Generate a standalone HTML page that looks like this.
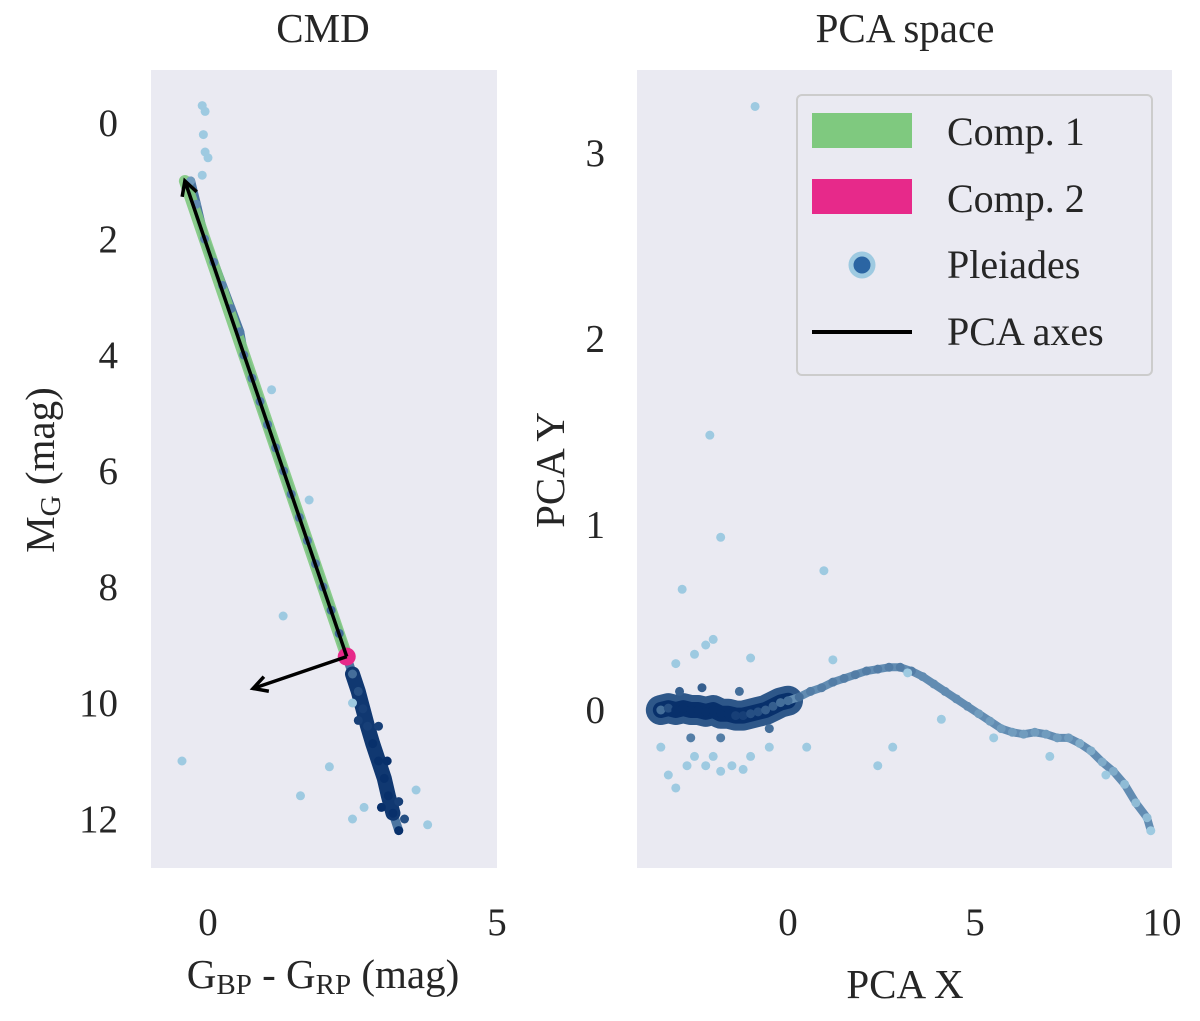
<!DOCTYPE html>
<html><head><meta charset="utf-8"><style>
body{margin:0;background:#fff}
svg text{font-family:"Liberation Serif",serif;fill:#262626}
</style></head><body>
<svg id="fig" width="1200" height="1016" viewBox="0 0 1200 1016" xmlns="http://www.w3.org/2000/svg">
<rect x="151" y="70" width="346" height="798" fill="#EAEAF2"/>
<rect x="637" y="70" width="535" height="798" fill="#EAEAF2"/>
<g id="cmd"></g><g id="pca"></g>
<text x="323" y="42" font-size="41" text-anchor="middle">CMD</text>
<text x="905" y="42" font-size="41" text-anchor="middle">PCA space</text>
<text x="323" y="988" font-size="41" text-anchor="middle">G<tspan font-size="29" dy="6">BP</tspan><tspan dy="-6"> - G</tspan><tspan font-size="29" dy="6">RP</tspan><tspan dy="-6"> (mag)</tspan></text>
<text transform="translate(54,470) rotate(-90)" font-size="41" text-anchor="middle">M<tspan font-size="29" dy="6">G</tspan><tspan dy="-6"> (mag)</tspan></text>
<text x="905" y="998" font-size="41" text-anchor="middle">PCA X</text>
<text transform="translate(564,470) rotate(-90)" font-size="41" text-anchor="middle">PCA Y</text>
<g>
<rect x="797" y="95" width="355" height="280" rx="5" fill="#EAEAF2" stroke="#cccccc" stroke-width="2"/>
<rect x="812" y="113" width="100" height="35" fill="#7FC97F"/>
<text x="947" y="145" font-size="40">Comp. 1</text>
<rect x="812" y="179" width="100" height="35" fill="#E7298A"/>
<text x="947" y="212" font-size="40">Comp. 2</text>
<circle cx="862" cy="265" r="11" fill="#2B65A3" stroke="#9ECAE1" stroke-width="5"/>
<text x="947" y="278" font-size="40">Pleiades</text>
<line x1="812" y1="332" x2="912" y2="332" stroke="#000" stroke-width="4"/>
<text x="947" y="345" font-size="40">PCA axes</text>
</g>
</svg>
<script>
const cmdColor=[-0.1,-0.05,-0.08,-0.05,0.0,-0.1,-0.3,-0.2,-0.06,0.1,0.25,0.4,0.55,0.62,0.76,0.9,1.03,1.17,1.31,1.44,1.58,1.72,1.86,1.99,2.13,2.27,2.4,2.5,2.6,2.68,2.76,2.85,2.95,3.05,3.12,3.2,3.3,2.6,3.1,2.95,3.3,3.0,3.4,-0.45,1.6,2.1,1.3,1.75,1.1,2.5,2.7,3.8,2.5,3.6];
const cmdMag=[-0.3,-0.2,0.2,0.5,0.6,0.9,1.0,1.4,2.0,2.4,2.8,3.2,3.6,4.0,4.4,4.8,5.2,5.6,6.0,6.4,6.8,7.2,7.6,8.0,8.4,8.8,9.2,9.5,9.8,10.1,10.4,10.7,11.0,11.3,11.6,11.9,12.2,10.3,11.0,10.4,11.7,11.8,12.0,11.0,11.6,11.1,8.5,6.5,4.6,12.0,11.8,12.1,10.0,11.5];
const cmdShade=[0,0,0,0,0,0,0.3,0.4,0.45,0.45,0.45,0.5,0.5,0.5,0.5,0.5,0.5,0.5,0.5,0.5,0.5,0.5,0.5,0.5,0.6,0.6,0.6,0.6,0.8,0.9,0.9,1,1,1,1,1,1,0.9,1,0.9,0.9,1,0.8,0,0,0,0,0,0,0,0,0,0,0];
const comp1=[[-0.4,1.0],[2.4,9.2]];
const axis2End=[0.78,9.75];
const pcaX=[-3.4,-3.2,-3.0,-2.8,-2.6,-2.4,-2.2,-2.0,-1.8,-1.6,-1.4,-1.2,-1.0,-0.8,-0.6,-0.4,-0.2,0,0.3,0.6,0.9,1.2,1.5,1.8,2.1,2.4,2.7,3.0,3.3,3.6,3.9,4.2,4.5,4.8,5.1,5.4,5.7,6.0,6.3,6.6,6.9,7.2,7.5,7.8,8.1,8.4,8.7,9.0,9.3,9.6,9.7,-3.4,-3.2,-3.0,-2.7,-2.5,-2.2,-2.0,-1.8,-1.5,-1.2,-1.0,-0.5,-3.0,-2.5,-2.2,-2.0,-1.0,0.5,1.2,2.4,2.8,3.2,4.1,5.5,7.0,8.5,-0.88,-2.09,-1.8,-2.83,0.96,-2.6,-1.8,-2.9,-2.3,-1.3,-0.5];
const pcaY=[0,0.01,0.0,0.01,0.0,0.0,-0.01,0.0,-0.02,-0.02,-0.03,-0.03,-0.02,-0.01,0.0,0.02,0.04,0.05,0.07,0.1,0.12,0.15,0.17,0.19,0.21,0.22,0.23,0.23,0.21,0.18,0.14,0.1,0.06,0.02,-0.02,-0.06,-0.1,-0.12,-0.13,-0.12,-0.13,-0.15,-0.15,-0.18,-0.22,-0.28,-0.33,-0.4,-0.5,-0.58,-0.65,-0.2,-0.35,-0.42,-0.3,-0.25,-0.3,-0.25,-0.33,-0.3,-0.32,-0.25,-0.2,0.25,0.3,0.35,0.38,0.28,-0.2,0.27,-0.3,-0.2,0.2,-0.05,-0.15,-0.25,-0.35,3.25,1.48,0.93,0.65,0.75,-0.15,-0.15,0.1,0.12,0.1,-0.1];
const pcaShade=[0.6,0.8,1,1,1,1,1,1,1,1,0.9,0.9,0.8,0.8,0.7,0.7,0.6,0.6,0.6,0.5,0.5,0.5,0.5,0.5,0.5,0.5,0.5,0.5,0.5,0.4,0.4,0.4,0.4,0.4,0.3,0.3,0.3,0.3,0.3,0.3,0.3,0.3,0.3,0.2,0.2,0.2,0.2,0.1,0.1,0.1,0,0,0,0,0,0,0,0,0,0,0,0,0,0,0,0,0,0,0,0,0,0,0,0,0,0,0,0,0,0,0,0,0.5,0.5,0.7,0.7,0.6,0.6];
const cmdXTicks=[0,5], cmdYTicks=[0,2,4,6,8,10,12], pcaXTicks=[0,5,10], pcaYTicks=[0,1,2,3];

const NS="http://www.w3.org/2000/svg";
function mk(p,t,a){const e=document.createElementNS(NS,t);for(const k in a)e.setAttribute(k,a[k]);p.appendChild(e);return e;}
const cx=v=>208+(v-0)*57.8, cy=v=>123+v*58;
const px=v=>788+v*37.4, py=v=>710-v*185.7;
function shade(s){const a=[158,202,225],b=[8,48,107];return `rgb(${a.map((c,i)=>Math.round(c+(b[i]-c)*s)).join(',')})`;}
const cmd=document.getElementById('cmd'), pca=document.getElementById('pca');

cmdXTicks.forEach(t=>{const e=mk(cmd,'text',{x:cx(t),y:935,'font-size':39,'text-anchor':'middle'});e.textContent=t;

});
cmdYTicks.forEach(t=>{const e=mk(cmd,'text',{x:118,y:cy(t)+13,'font-size':39,'text-anchor':'end'});e.textContent=t;

});
pcaXTicks.forEach(t=>{const e=mk(pca,'text',{x:px(t),y:935,'font-size':39,'text-anchor':'middle'});e.textContent=t;

});
pcaYTicks.forEach(t=>{const e=mk(pca,'text',{x:605,y:py(t)+13,'font-size':39,'text-anchor':'end'});e.textContent=t;

});

let seq=[];for(let i=6;i<37;i++)seq.push(cx(cmdColor[i])+','+cy(cmdMag[i]));
const band=mk(cmd,'polyline',{points:seq.join(' '),fill:'none',stroke:shade(0.55),'stroke-width':9,'stroke-linecap':'round'});


let seq2=[];for(let i=27;i<36;i++)seq2.push(cx(cmdColor[i])+','+cy(cmdMag[i]));
const band2=mk(cmd,'polyline',{points:seq2.join(' '),fill:'none',stroke:shade(0.95),'stroke-width':15,'stroke-linecap':'round'});


const g=mk(cmd,'line',{x1:cx(comp1[0][0]),y1:cy(comp1[0][1]),x2:cx(comp1[1][0]),y2:cy(comp1[1][1]),stroke:'#7FC97F','stroke-width':12,'stroke-linecap':'round','stroke-opacity':0.9});


cmdColor.forEach((c,i)=>{const e=mk(cmd,'circle',{cx:cx(c),cy:cy(cmdMag[i]),r:4.5,fill:shade(cmdShade[i])});

});
const dot=mk(cmd,'circle',{cx:cx(comp1[1][0]),cy:cy(comp1[1][1]),r:9,fill:'#E7298A'});


function arrow(x1,y1,x2,y2,name){const grp=mk(cmd,'g',{});


mk(grp,'line',{x1,y1,x2,y2,stroke:'#000','stroke-width':3.5});
const a=Math.atan2(y2-y1,x2-x1),L=16,w=0.5;
mk(grp,'polyline',{points:`${x2-L*Math.cos(a-w)},${y2-L*Math.sin(a-w)} ${x2},${y2} ${x2-L*Math.cos(a+w)},${y2-L*Math.sin(a+w)}`,fill:'none',stroke:'#000','stroke-width':3.5});}
arrow(cx(comp1[1][0]),cy(comp1[1][1]),cx(comp1[0][0]),cy(comp1[0][1]),'pca-axis-1-arrow');
arrow(cx(comp1[1][0]),cy(comp1[1][1]),cx(axis2End[0]),cy(axis2End[1]),'pca-axis-2-arrow');

let cl=[];for(let i=0;i<18;i++)cl.push(px(pcaX[i])+','+py(pcaY[i]));
const cb=mk(pca,'polyline',{points:cl.join(' '),fill:'none',stroke:shade(0.75),'stroke-width':30,'stroke-linecap':'round','stroke-linejoin':'round'});


const cb2=mk(pca,'polyline',{points:cl.join(' '),fill:'none',stroke:shade(1),'stroke-width':16,'stroke-linecap':'round','stroke-linejoin':'round'});


let cu=[];for(let i=17;i<51;i++)cu.push(px(pcaX[i])+','+py(pcaY[i]));
const cub=mk(pca,'polyline',{points:cu.join(' '),fill:'none',stroke:shade(0.4),'stroke-width':8,'stroke-linecap':'round','stroke-linejoin':'round'});


pcaX.forEach((x,i)=>{const e=mk(pca,'circle',{cx:px(x),cy:py(pcaY[i]),r:4.5,fill:shade(pcaShade[i])});

});
</script>
</body></html>
